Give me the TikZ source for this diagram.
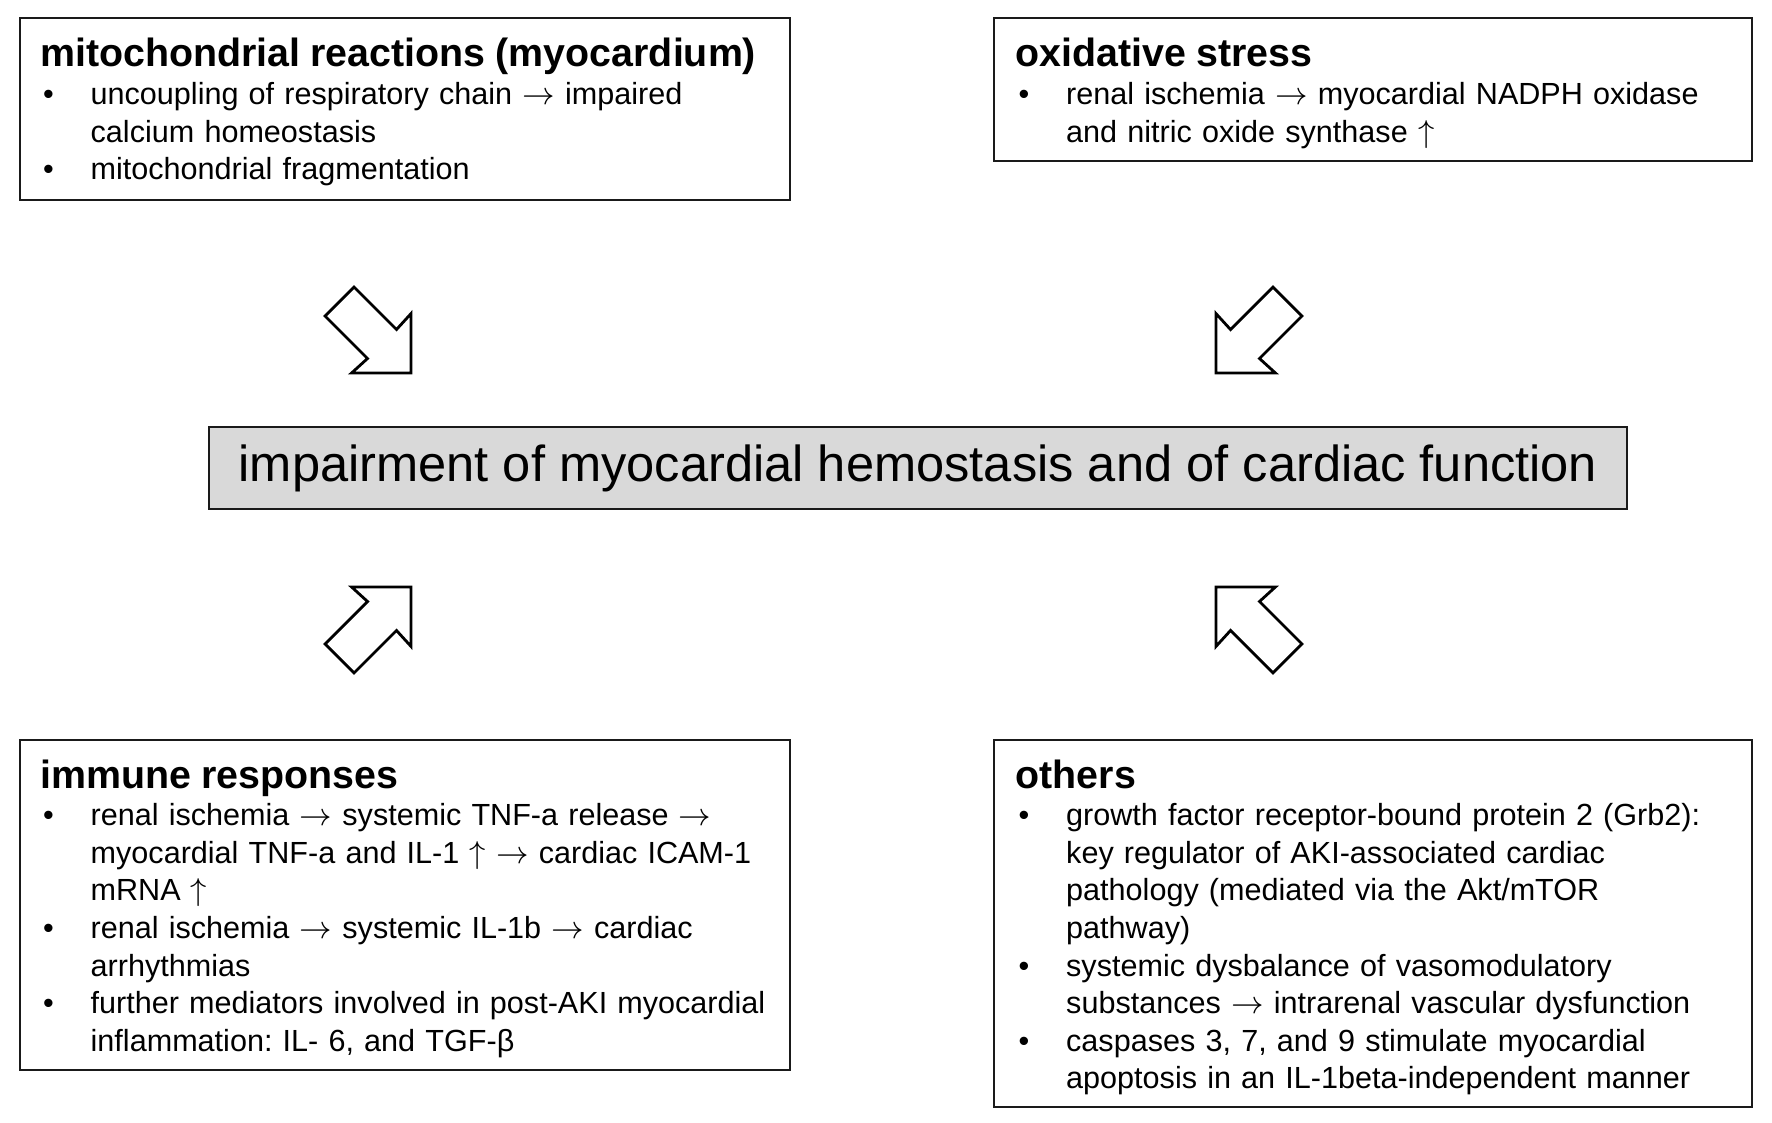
\documentclass[tikz,border=0pt]{standalone}
\usepackage{fontspec}
\setmainfont{Liberation Sans}
\usetikzlibrary{positioning}
\definecolor{Frame}{HTML}{1A1A1A}
\definecolor{Shade}{HTML}{D9D9D9}
\frenchspacing
\newcommand{\itm}[1]{\par\hangindent=0.505cm\hangafter=1\noindent\makebox[0.505cm][l]{\kern0.03cm•}#1\par}
\newcommand{\heading}[1]{{\fontsize{11.2}{10.7}\selectfont\bfseries #1\par}}
\newcommand{\tto}{$\rightarrow$}
\newcommand{\rise}{$\uparrow$}
\tikzset{panel/.style={draw=Frame,line width=0.6pt,anchor=north west,inner sep=0pt},txt/.style={anchor=base west,inner sep=0pt,text width=7.45cm,align=left,font=\fontsize{8.7}{10.7}\selectfont},hub/.style={draw=Frame,fill=Shade,line width=0.6pt,inner sep=0pt,font=\fontsize{14.4}{17}\selectfont},blockarrow/.pic={\draw[line width=0.8pt,line join=miter,fill=white] (0,0) -- (-0.42,0.42) -- (-0.41,0.205) -- (-1.01,0.205) -- (-1.01,-0.205) -- (-0.41,-0.205) -- (-0.42,-0.42) -- cycle;}}
\begin{document}
\begin{tikzpicture}
\useasboundingbox (0,0) rectangle (17.72,-11.23);
% four panels and the hub
\node[panel,minimum width=7.70cm,minimum height=1.82cm] (mito) at (0.19,-0.17) {};
\node[panel,minimum width=7.58cm,minimum height=1.43cm] (oxid) at (9.93,-0.17) {};
\node[panel,minimum width=7.70cm,minimum height=3.30cm] (immune) at (0.19,-7.39) {};
\node[panel,minimum width=7.58cm,minimum height=3.67cm] (others) at (9.93,-7.39) {};
\node[hub,minimum width=14.18cm,minimum height=0.82cm] (hub) at (9.18,-4.68) {impairment of myocardial hemostasis and of cardiac function};
% panel texts
\node[txt] (mitotxt) at ([xshift=0.205cm,yshift=-0.50cm]mito.north west) {\heading{mitochondrial reactions (myocardium)}%
\itm{uncoupling of respiratory chain \tto{} impaired\newline calcium homeostasis}
\itm{mitochondrial fragmentation}};
\node[txt] (oxidtxt) at ([xshift=0.22cm,yshift=-0.50cm]oxid.north west) {\heading{oxidative stress}%
\itm{renal ischemia \tto{} myocardial NADPH oxidase\newline and nitric oxide synthase \rise}};
\node[txt] (immunetxt) at ([xshift=0.205cm,yshift=-0.49cm]immune.north west) {\heading{immune responses}%
\itm{renal ischemia \tto{} systemic TNF-a release \tto\newline myocardial TNF-a and IL-1 \rise{} \tto{} cardiac ICAM-1\newline mRNA \rise}
\itm{renal ischemia \tto{} systemic IL-1b \tto{} cardiac\newline arrhythmias}
\itm{further mediators involved in post-AKI myocardial\newline inflammation: IL- 6, and TGF-β}};
\node[txt] (otherstxt) at ([xshift=0.22cm,yshift=-0.49cm]others.north west) {\heading{others}%
\itm{growth factor receptor-bound protein 2 (Grb2):\newline key regulator of AKI-associated cardiac\newline pathology (mediated via the Akt/mTOR\newline pathway)}
\itm{systemic dysbalance of vasomodulatory\newline substances \tto{} intrarenal vascular dysfunction}
\itm{caspases 3, 7, and 9 stimulate myocardial\newline apoptosis in an IL-1beta-independent manner}};
% block arrows towards the hub
\pic[rotate=-45] (arrmito) at (4.11,-3.73) {blockarrow};
\pic[rotate=-135] (arroxid) at (12.16,-3.73) {blockarrow};
\pic[rotate=45] (arrimmune) at (4.11,-5.87) {blockarrow};
\pic[rotate=135] (arrothers) at (12.16,-5.87) {blockarrow};
\end{tikzpicture}
\end{document}
